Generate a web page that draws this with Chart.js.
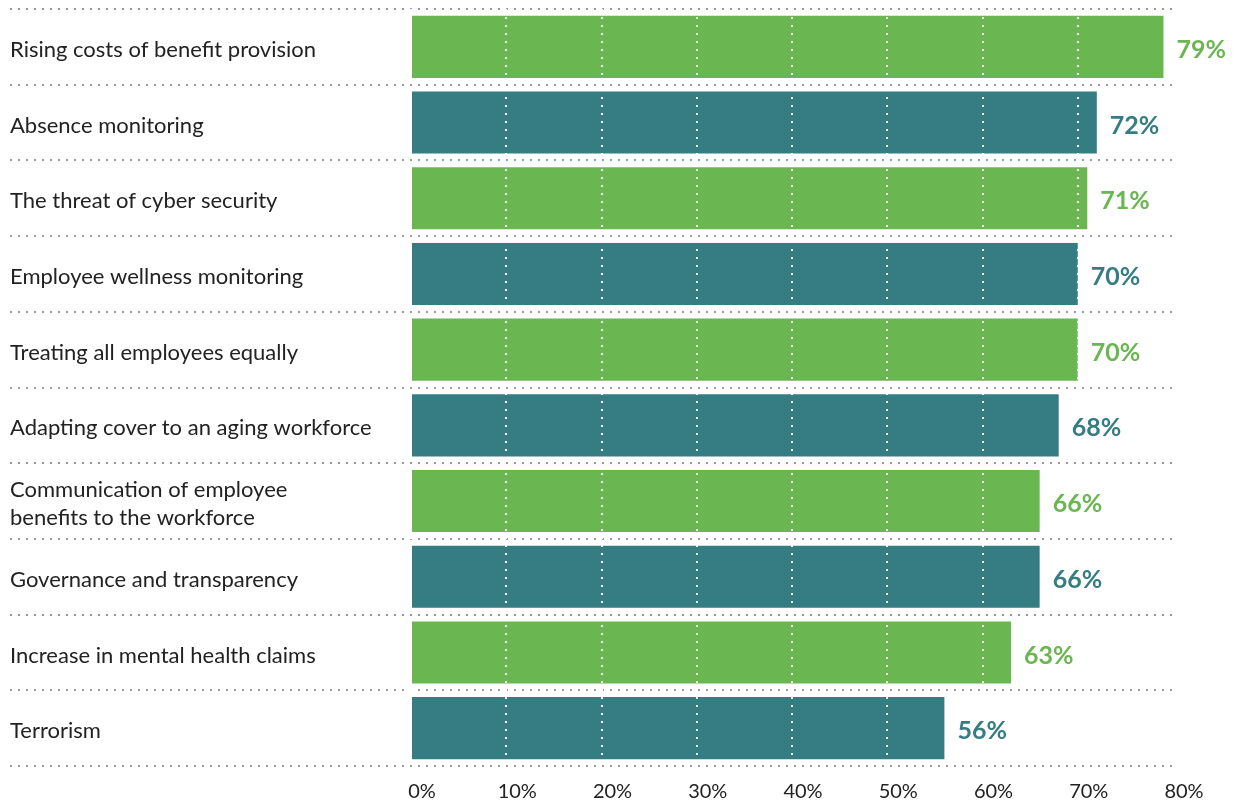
<!DOCTYPE html>
<html>
<head>
<meta charset="utf-8">
<script src="https://cdn.jsdelivr.net/npm/chart.js@4"></script>
<style>
  html, body { margin: 0; padding: 0; background: #fff; }
  #wrap { width: 1243px; height: 802px; }
</style>
</head>
<body>
<div id="wrap"><canvas id="issuesChart" width="1243" height="802"></canvas></div>
<script>
// survey items and share of respondents
const categories = [
    'Rising costs of benefit provision',
    'Absence monitoring',
    'The threat of cyber security',
    'Employee wellness monitoring',
    'Treating all employees equally',
    'Adapting cover to an aging workforce',
    ['Communication of employee', 'benefits to the workforce'],
    'Governance and transparency',
    'Increase in mental health claims',
    'Terrorism'
];
const values = [79, 72, 71, 70, 70, 68, 66, 66, 63, 56];
const tickValues = [0, 10, 20, 30, 40, 50, 60, 70, 80];

const green = '#6ab651';
const teal = '#357c83';
const barColors = values.map((v, i) => i % 2 === 0 ? green : teal);

// dotted grey separators between the rows, running under the labels too
const rowLines = {
    id: 'rowLines',
    beforeDatasetsDraw(chart) {
        const ctx = chart.ctx;
        const y = chart.scales.y;
        const step = (y.bottom - y.top) / categories.length;
        ctx.save();
        ctx.strokeStyle = '#9a9a9a';
        ctx.lineWidth = 2;
        ctx.setLineDash([2, 6]);
        for (let i = 0; i <= categories.length; i++) {
            const py = Math.round(y.top + i * step);
            ctx.beginPath();
            ctx.moveTo(10, py);
            ctx.lineTo(chart.chartArea.right, py);
            ctx.stroke();
        }
        ctx.restore();
    }
};

// percentage next to the end of each bar
const valueLabels = {
    id: 'valueLabels',
    afterDraw(chart) {
        const ctx = chart.ctx;
        const meta = chart.getDatasetMeta(0);
        ctx.save();
        ctx.font = 'bold 25px Lato';
        ctx.textAlign = 'left';
        ctx.textBaseline = 'middle';
        meta.data.forEach((bar, i) => {
            ctx.fillStyle = barColors[i];
            ctx.fillText(values[i] + '%', bar.x + 13, bar.y + 3);
        });
        ctx.restore();
    }
};

new Chart(document.getElementById('issuesChart'), {
    type: 'bar',
    data: {
        labels: categories,
        datasets: [{
            data: values,
            backgroundColor: barColors,
            borderWidth: 0,
            barPercentage: 0.82,
            categoryPercentage: 1
        }]
    },
    options: {
        indexAxis: 'y',
        responsive: false,
        animation: false,
        layout: { padding: { left: 10, right: 70, top: 9, bottom: 0 } },
        plugins: {
            legend: { display: false },
            tooltip: { enabled: false }
        },
        scales: {
            x: {
                min: 0,
                max: 80,
                afterBuildTicks(axis) {
                    axis.ticks = tickValues.map(v => ({ value: v }));
                },
                afterFit(axis) { axis.height = 36; },
                border: { display: false, dash: [2, 6] },
                grid: {
                    z: 1,
                    color: (c) => c.tick && c.tick.value === 80 ? 'rgba(0,0,0,0)' : '#ffffff',
                    lineWidth: 2,
                    drawTicks: false
                },
                ticks: {
                    callback: (v) => v + '%',
                    color: '#222',
                    font: { family: 'Lato', size: 20 },
                    padding: 14,
                    labelOffset: 11,
                    maxRotation: 0
                }
            },
            y: {
                afterFit(axis) {
                    axis.width = 401;
                    axis.paddingTop = 0;
                    axis.paddingBottom = 0;
                },
                border: { display: false },
                grid: { display: false, drawTicks: false },
                ticks: {
                    crossAlign: 'far',
                    color: '#222',
                    font: { family: 'Lato', size: 22, lineHeight: 1.27 },
                    padding: 0,
                    labelOffset: 3
                }
            }
        }
    },
    plugins: [rowLines, valueLabels]
});
</script>
</body>
</html>
